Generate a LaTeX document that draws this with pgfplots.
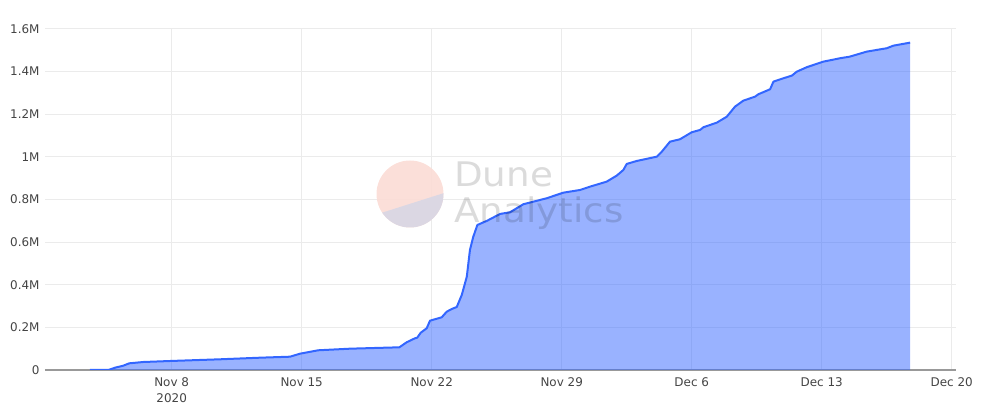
\documentclass[border=0pt]{standalone}
\usepackage{pgfplots}
\pgfplotsset{compat=1.18}
\usepackage{pgfplotstable}
\usepackage{fontspec}
\setmainfont{DejaVu Sans}

\definecolor{lineblue}{HTML}{3366FF}
\definecolor{gridgray}{HTML}{EBEBEB}
\definecolor{axisgray}{HTML}{999999}
\definecolor{ticktext}{HTML}{444444}
\definecolor{wmpink}{HTML}{FBDCD5}
\definecolor{wmlav}{HTML}{D8D7E5}

% days counted from Nov 1 2020 (Nov 8 = 7), cumulative total
\pgfplotstableread{
day val
2.60 0
3.59 0
3.95 10800
4.39 20200
4.72 31400
5.47 37500
6.91 42200
9.60 50200
11.75 57700
13.37 62400
13.91 76500
14.89 92500
16.60 100000
19.26 106500
19.65 130000
20.10 148800
20.22 151600
20.41 175000
20.73 195700
20.91 231400
21.54 247300
21.81 273600
22.08 286300
22.35 295700
22.62 352000
22.89 437900
23.06 563200
23.24 625600
23.46 680500
23.96 699300
24.68 732100
25.22 740100
25.58 758900
25.93 777600
27.19 805800
28.09 832100
28.99 844700
29.52 860200
30.42 883700
30.96 911900
31.32 938600
31.50 966800
32.04 980800
33.12 1001000
33.39 1024500
33.83 1071400
34.37 1082700
35.00 1115500
35.45 1126300
35.63 1139000
36.35 1160600
36.89 1188700
37.33 1235700
37.78 1263800
38.41 1282600
38.59 1293900
39.22 1317300
39.40 1353000
39.94 1368900
40.39 1381200
40.66 1399900
41.19 1420600
42.09 1446900
42.99 1462800
43.51 1470300
44.42 1493800
45.50 1509700
45.86 1521900
46.76 1536000
}\totals

\begin{document}
\begin{tikzpicture}
\useasboundingbox (0,0) rectangle (982bp,416bp);
\begin{axis}[
    at={(45bp,46bp)}, anchor=south west,
    scale only axis,
    width=911bp, height=341bp,
    xmin=0.18, xmax=49.23,
    ymin=0, ymax=1600000,
    axis x line*=bottom, axis y line*=left,
    x axis line style={-, draw=axisgray, line width=1.3bp},
    y axis line style={draw=none},
    major tick length=0pt,
    grid=major,
    major grid style={draw=gridgray, line width=1bp},
    xtick={7,14,21,28,35,42,49},
    xticklabels={Nov 8\\2020, Nov 15, Nov 22, Nov 29, Dec 6, Dec 13, Dec 20},
    ytick={0,200000,400000,600000,800000,1000000,1200000,1400000,1600000},
    yticklabels={0,0.2M,0.4M,0.6M,0.8M,1M,1.2M,1.4M,1.6M},
    scaled y ticks=false,
    /pgf/number format/assume math mode=true,
    ticklabel style={font=\fontsize{12}{16}\selectfont, text=ticktext},
    xticklabel style={align=center, yshift=-4.5bp},
    yticklabel style={xshift=-2bp},
]
\addplot[draw=none, fill=lineblue, fill opacity=0.5] table[x=day, y=val] {\totals} \closedcycle;
\addplot[lineblue, line width=2bp, line join=round] table[x=day, y=val] {\totals};
\end{axis}

% watermark
\begin{scope}
  \clip (410bp,222bp) circle (33.5bp);
  \fill[wmpink, fill opacity=0.9] (370bp,185bp) rectangle (450bp,260bp);
  \fill[wmlav, fill opacity=0.9] (370bp,199.5bp) -- (450bp,224.9bp) -- (450bp,180bp) -- (370bp,180bp) -- cycle;
\end{scope}
\node[anchor=base west, inner sep=0pt, text=black, text opacity=0.14, xscale=1.1,
      font=\fontsize{34}{34}\selectfont] at (454bp,229bp) {Dune};
\node[anchor=base west, inner sep=0pt, text=black, text opacity=0.14, xscale=1.1,
      font=\fontsize{34}{34}\selectfont] at (454bp,193bp) {Analytics};
\end{tikzpicture}
\end{document}
